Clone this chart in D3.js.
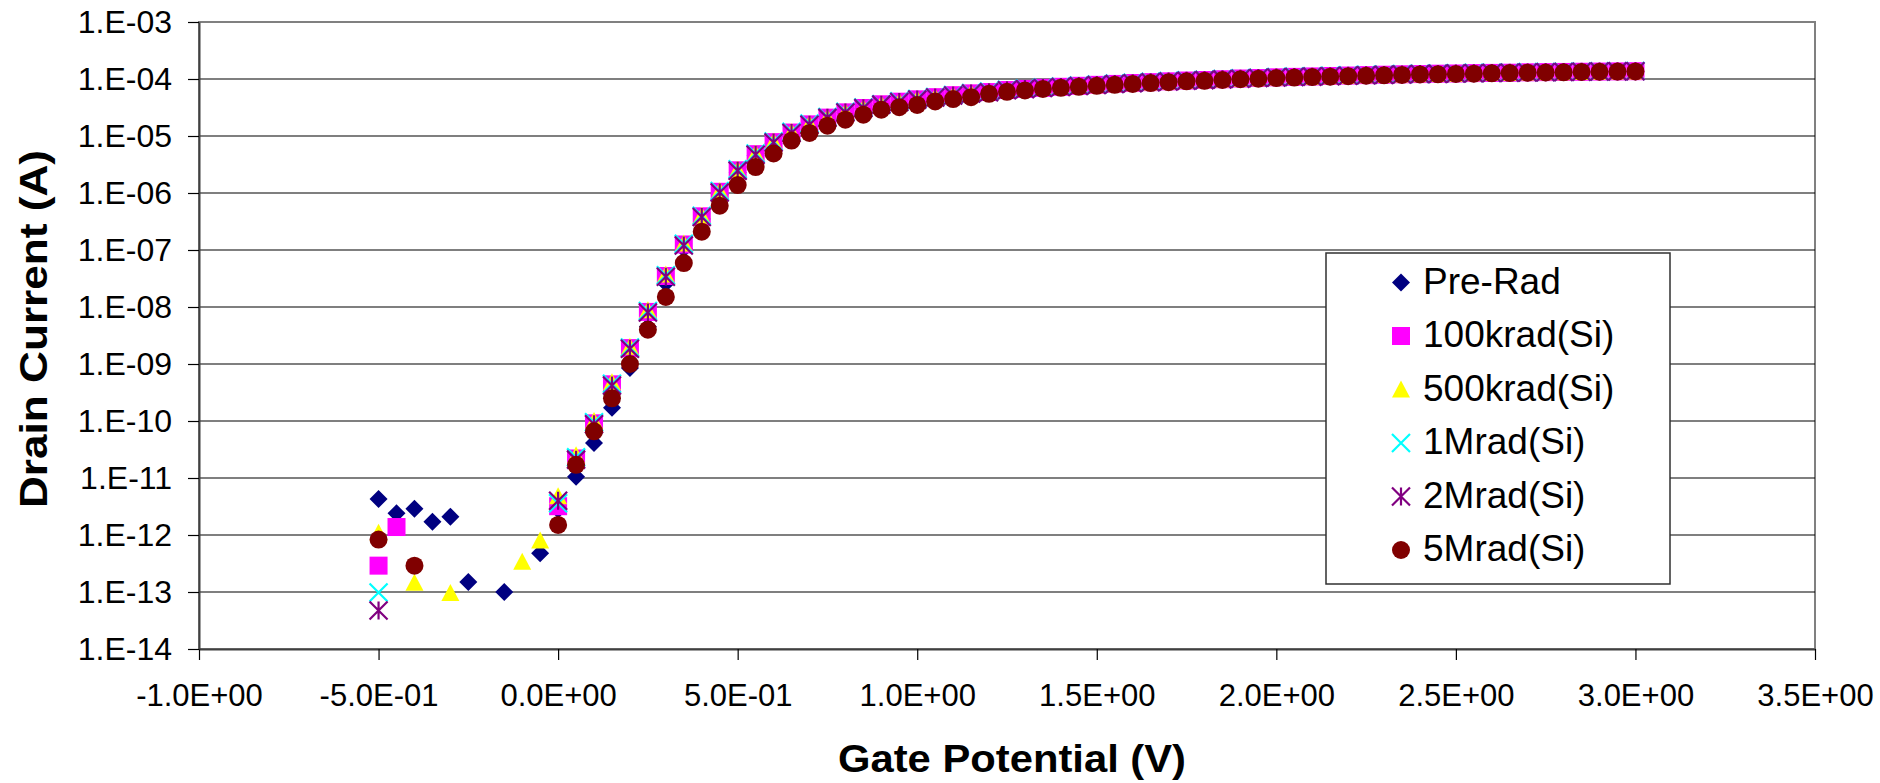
<!DOCTYPE html>
<html>
<head>
<meta charset="utf-8">
<script src="https://cdn.jsdelivr.net/npm/d3@7"></script>
<style>
  html, body { margin: 0; padding: 0; background: #fff; }
  svg { display: block; font-family: "Liberation Sans", Arial, Helvetica, sans-serif; }
</style>
</head>
<body>
<svg id="chart" width="1880" height="783"></svg>
<script>
// Gate sweep (V)
const gateV = [
  -0.50, -0.45, -0.40, -0.35, -0.30, -0.25, -0.20, -0.15, -0.10, -0.05,
   0.00,  0.05,  0.10,  0.15,  0.20,  0.25,  0.30,  0.35,  0.40,  0.45,
   0.50,  0.55,  0.60,  0.65,  0.70,  0.75,  0.80,  0.85,  0.90,  0.95,
   1.00,  1.05,  1.10,  1.15,  1.20,  1.25,  1.30,  1.35,  1.40,  1.45,
   1.50,  1.55,  1.60,  1.65,  1.70,  1.75,  1.80,  1.85,  1.90,  1.95,
   2.00,  2.05,  2.10,  2.15,  2.20,  2.25,  2.30,  2.35,  2.40,  2.45,
   2.50,  2.55,  2.60,  2.65,  2.70,  2.75,  2.80,  2.85,  2.90,  2.95,
   3.00
];

// Drain current (A) per dose level; null = no positive reading
const preRad = [
  4.3e-12, 2.4e-12, 2.9e-12, 1.7e-12, 2.1e-12, 1.5e-13, null, 1.0e-13, null, 4.8e-13,
  2.8e-12, 1.05e-11, 4.1e-11, 1.7e-10, 8.5e-10, 4.5e-9, 2.6e-8, 1.05e-7, 3.5e-7, 9.5e-7,
  2.3e-6, 4.5e-6, 7.4e-6, 1.1e-5, 1.55e-5, 2.05e-5, 2.55e-5, 3.0e-5, 3.5e-5, 3.9e-5,
  4.3e-5, 4.7e-5, 5.1e-5, 5.5e-5, 5.8e-5, 6.3e-5, 6.6e-5, 6.9e-5, 7.2e-5, 7.5e-5,
  7.8e-5, 8.1e-5, 8.4e-5, 8.7e-5, 9.0e-5, 9.3e-5, 9.5e-5, 9.8e-5, 1.01e-4, 1.03e-4,
  1.06e-4, 1.08e-4, 1.10e-4, 1.12e-4, 1.14e-4, 1.16e-4, 1.18e-4, 1.20e-4, 1.21e-4, 1.23e-4,
  1.24e-4, 1.26e-4, 1.27e-4, 1.28e-4, 1.30e-4, 1.31e-4, 1.32e-4, 1.33e-4, 1.34e-4, 1.35e-4,
  1.36e-4
];
const krad100 = [
  2.9e-13, 1.38e-12, null, null, null, null, null, null, null, null,
  3.2e-12, 2.2e-11, 9.1e-11, 4.4e-10, 1.9e-9, 8.2e-9, 3.5e-8, 1.25e-7, 3.9e-7, 1.05e-6,
  2.5e-6, 4.8e-6, 7.8e-6, 1.15e-5, 1.6e-5, 2.1e-5, 2.6e-5, 3.1e-5, 3.6e-5, 4.0e-5,
  4.4e-5, 4.8e-5, 5.2e-5, 5.6e-5, 5.9e-5, 6.4e-5, 6.7e-5, 7.0e-5, 7.3e-5, 7.6e-5,
  7.9e-5, 8.2e-5, 8.5e-5, 8.8e-5, 9.1e-5, 9.4e-5, 9.6e-5, 9.9e-5, 1.02e-4, 1.04e-4,
  1.07e-4, 1.09e-4, 1.11e-4, 1.13e-4, 1.15e-4, 1.17e-4, 1.19e-4, 1.21e-4, 1.22e-4, 1.24e-4,
  1.25e-4, 1.27e-4, 1.28e-4, 1.29e-4, 1.31e-4, 1.32e-4, 1.33e-4, 1.34e-4, 1.35e-4, 1.36e-4,
  1.37e-4
];
const krad500 = [
  1.1e-12, null, 1.45e-13, null, 9.6e-14, null, null, null, 3.4e-13, 8.0e-13,
  4.8e-12, 2.5e-11, 1.0e-10, 4.8e-10, 2.0e-9, 8.8e-9, 3.7e-8, 1.3e-7, 4.0e-7, 1.08e-6,
  2.55e-6, 4.9e-6, 7.9e-6, 1.17e-5, 1.62e-5, 2.1e-5, 2.6e-5, 3.1e-5, 3.6e-5, 4.0e-5,
  4.4e-5, 4.8e-5, 5.2e-5, 5.6e-5, 5.9e-5, 6.4e-5, 6.7e-5, 7.0e-5, 7.3e-5, 7.6e-5,
  7.8e-5, 8.1e-5, 8.4e-5, 8.7e-5, 9.0e-5, 9.3e-5, 9.5e-5, 9.8e-5, 1.01e-4, 1.03e-4,
  1.06e-4, 1.08e-4, 1.10e-4, 1.12e-4, 1.14e-4, 1.16e-4, 1.18e-4, 1.20e-4, 1.21e-4, 1.23e-4,
  1.24e-4, 1.26e-4, 1.27e-4, 1.28e-4, 1.30e-4, 1.31e-4, 1.32e-4, 1.33e-4, 1.34e-4, 1.35e-4,
  1.36e-4
];
const mrad1 = [
  9.8e-14, null, null, null, null, null, null, null, null, null,
  3.6e-12, 2.3e-11, 9.5e-11, 4.5e-10, 1.95e-9, 8.5e-9, 3.6e-8, 1.28e-7, 4.0e-7, 1.08e-6,
  2.6e-6, 4.95e-6, 8.0e-6, 1.18e-5, 1.65e-5, 2.15e-5, 2.65e-5, 3.15e-5, 3.6e-5, 4.05e-5,
  4.45e-5, 4.85e-5, 5.25e-5, 5.65e-5, 6.0e-5, 6.5e-5, 6.8e-5, 7.1e-5, 7.4e-5, 7.7e-5,
  8.0e-5, 8.3e-5, 8.6e-5, 8.9e-5, 9.2e-5, 9.5e-5, 9.7e-5, 1.0e-4, 1.03e-4, 1.05e-4,
  1.08e-4, 1.10e-4, 1.12e-4, 1.14e-4, 1.16e-4, 1.18e-4, 1.20e-4, 1.22e-4, 1.23e-4, 1.25e-4,
  1.26e-4, 1.28e-4, 1.29e-4, 1.30e-4, 1.32e-4, 1.33e-4, 1.34e-4, 1.35e-4, 1.36e-4, 1.37e-4,
  1.38e-4
];
const mrad2 = [
  4.75e-14, null, null, null, null, null, null, null, null, null,
  4.0e-12, 2.1e-11, 8.8e-11, 4.2e-10, 1.85e-9, 8.0e-9, 3.4e-8, 1.2e-7, 3.8e-7, 1.02e-6,
  2.45e-6, 4.7e-6, 7.7e-6, 1.13e-5, 1.58e-5, 2.08e-5, 2.58e-5, 3.08e-5, 3.55e-5, 3.95e-5,
  4.35e-5, 4.75e-5, 5.15e-5, 5.55e-5, 5.85e-5, 6.35e-5, 6.65e-5, 6.95e-5, 7.25e-5, 7.55e-5,
  7.85e-5, 8.15e-5, 8.45e-5, 8.75e-5, 9.05e-5, 9.35e-5, 9.55e-5, 9.85e-5, 1.01e-4, 1.04e-4,
  1.06e-4, 1.08e-4, 1.10e-4, 1.12e-4, 1.14e-4, 1.16e-4, 1.18e-4, 1.20e-4, 1.22e-4, 1.23e-4,
  1.25e-4, 1.26e-4, 1.27e-4, 1.29e-4, 1.30e-4, 1.31e-4, 1.33e-4, 1.34e-4, 1.35e-4, 1.36e-4,
  1.37e-4
];
const mrad5 = [
  8.3e-13, null, 2.9e-13, null, null, null, null, null, null, null,
  1.5e-12, 1.7e-11, 6.6e-11, 2.5e-10, 1.0e-9, 4.0e-9, 1.5e-8, 5.9e-8, 2.1e-7, 6.0e-7,
  1.38e-6, 2.85e-6, 4.95e-6, 8.3e-6, 1.13e-5, 1.52e-5, 1.93e-5, 2.37e-5, 2.9e-5, 3.2e-5,
  3.5e-5, 4.05e-5, 4.45e-5, 4.8e-5, 5.5e-5, 5.95e-5, 6.3e-5, 6.7e-5, 7.0e-5, 7.3e-5,
  7.6e-5, 7.9e-5, 8.2e-5, 8.5e-5, 8.8e-5, 9.1e-5, 9.3e-5, 9.6e-5, 9.9e-5, 1.01e-4,
  1.04e-4, 1.06e-4, 1.08e-4, 1.10e-4, 1.12e-4, 1.14e-4, 1.16e-4, 1.18e-4, 1.20e-4, 1.21e-4,
  1.23e-4, 1.24e-4, 1.26e-4, 1.27e-4, 1.29e-4, 1.30e-4, 1.31e-4, 1.33e-4, 1.34e-4, 1.35e-4,
  1.36e-4
];

const seriesNames  = ["Pre-Rad", "100krad(Si)", "500krad(Si)", "1Mrad(Si)", "2Mrad(Si)", "5Mrad(Si)"];
const seriesValues = [preRad, krad100, krad500, mrad1, mrad2, mrad5];
const seriesColors = ["#000080", "#FF00FF", "#FFFF00", "#00FFFF", "#800080", "#800000"];
const seriesShapes = ["diamond", "square", "triangle", "cross", "asterisk", "circle"];

// Axis ticks and their labels
const xTicks = [-1.0, -0.5, 0.0, 0.5, 1.0, 1.5, 2.0, 2.5, 3.0, 3.5];
const xTickLabels = ["-1.0E+00", "-5.0E-01", "0.0E+00", "5.0E-01", "1.0E+00",
                     "1.5E+00", "2.0E+00", "2.5E+00", "3.0E+00", "3.5E+00"];
const yTicks = [1e-14, 1e-13, 1e-12, 1e-11, 1e-10, 1e-9, 1e-8, 1e-7, 1e-6, 1e-5, 1e-4, 1e-3];
const yTickLabels = ["1.E-14", "1.E-13", "1.E-12", "1.E-11", "1.E-10", "1.E-09",
                     "1.E-08", "1.E-07", "1.E-06", "1.E-05", "1.E-04", "1.E-03"];

const xTitle = "Gate Potential (V)";
const yTitle = "Drain Current (A)";

// ---- layout ----
const plot = { left: 199, right: 1815, top: 22, bottom: 649 };
const svg = d3.select("#chart");

const x = d3.scaleLinear().domain([-1.0, 3.5]).range([plot.left, plot.right]);
const y = d3.scaleLog().domain([1e-14, 1e-3]).range([plot.bottom, plot.top]);

svg.append("rect").attr("width", 1880).attr("height", 783).attr("fill", "#fff");

// plot-area frame
svg.append("rect")
  .attr("x", plot.left).attr("y", plot.top)
  .attr("width", plot.right - plot.left).attr("height", plot.bottom - plot.top)
  .attr("fill", "#fff").attr("stroke", "#808080").attr("stroke-width", 2);

// horizontal gridlines at each decade
svg.append("g").selectAll("line")
  .data(yTicks.filter(v => v > 1e-14 && v < 1e-3))
  .join("line")
  .attr("x1", plot.left).attr("x2", plot.right)
  .attr("y1", d => y(d)).attr("y2", d => y(d))
  .attr("stroke", "#000").attr("stroke-width", 1.2);

// axes
const xAxis = d3.axisBottom(x)
  .tickValues(xTicks)
  .tickFormat((d, i) => xTickLabels[i])
  .tickSize(11).tickPadding(24).tickSizeOuter(0);
const yAxis = d3.axisLeft(y)
  .tickValues(yTicks)
  .tickFormat((d, i) => yTickLabels[i])
  .tickSize(11).tickPadding(16).tickSizeOuter(0);

const gx = svg.append("g").attr("transform", `translate(0,${plot.bottom})`).call(xAxis);
const gy = svg.append("g").attr("transform", `translate(${plot.left},0)`).call(yAxis);

[gx, gy].forEach(g => {
  g.select(".domain").attr("stroke", "#404040").attr("stroke-width", 2);
  g.selectAll(".tick line").attr("stroke", "#000").attr("stroke-width", 1.2);
  g.selectAll(".tick text").attr("fill", "#000")
    .style("font-family", "'Liberation Sans', Arial, sans-serif");
});
gx.selectAll(".tick text").style("font-size", "31px");
gy.selectAll(".tick text").style("font-size", "32px");

// axis titles
svg.append("text")
  .attr("x", 1012).attr("y", 772)
  .attr("text-anchor", "middle")
  .attr("textLength", 348).attr("lengthAdjust", "spacingAndGlyphs")
  .style("font-size", "38px").style("font-weight", "bold")
  .text(xTitle);

svg.append("text")
  .attr("transform", "translate(47,329) rotate(-90)")
  .attr("text-anchor", "middle")
  .attr("textLength", 358).attr("lengthAdjust", "spacingAndGlyphs")
  .style("font-size", "38px").style("font-weight", "bold")
  .text(yTitle);

// ---- markers ----
const R = 9;
function drawMarker(g, shape, color) {
  switch (shape) {
    case "diamond":
      g.append("path").attr("d", `M0,${-R}L${R},0L0,${R}L${-R},0Z`).attr("fill", color);
      break;
    case "square":
      g.append("rect").attr("x", -R).attr("y", -R).attr("width", 2 * R).attr("height", 2 * R).attr("fill", color);
      break;
    case "triangle":
      g.append("path").attr("d", `M0,${-R}L${R},${R - 1}L${-R},${R - 1}Z`).attr("fill", color);
      break;
    case "cross":
      g.append("path").attr("d", `M${-R},${-R}L${R},${R}M${R},${-R}L${-R},${R}`)
        .attr("stroke", color).attr("stroke-width", 2.2).attr("fill", "none");
      break;
    case "asterisk":
      g.append("path").attr("d", `M${-R},${-R}L${R},${R}M${R},${-R}L${-R},${R}M0,${-R}L0,${R}`)
        .attr("stroke", color).attr("stroke-width", 2.2).attr("fill", "none");
      break;
    case "circle":
      g.append("circle").attr("r", R).attr("fill", color);
      break;
  }
}

const clip = svg.append("clipPath").attr("id", "plotClip")
  .append("rect").attr("x", plot.left).attr("y", plot.top)
  .attr("width", plot.right - plot.left).attr("height", plot.bottom - plot.top);

const marks = svg.append("g").attr("clip-path", "url(#plotClip)");
seriesValues.forEach((vals, s) => {
  const pts = gateV.map((v, i) => ({ v, c: vals[i] })).filter(p => p.c != null && p.c > 0);
  marks.append("g").selectAll("g")
    .data(pts)
    .join("g")
    .attr("transform", p => `translate(${x(p.v)},${y(p.c)})`)
    .each(function () { drawMarker(d3.select(this), seriesShapes[s], seriesColors[s]); });
});

// ---- legend ----
const legend = svg.append("g");
legend.append("rect")
  .attr("x", 1326).attr("y", 253).attr("width", 344).attr("height", 331)
  .attr("fill", "#fff").attr("stroke", "#303030").attr("stroke-width", 1.5);

const rows = legend.selectAll("g.row")
  .data(seriesNames)
  .join("g").attr("class", "row")
  .attr("transform", (d, i) => `translate(0,${282.5 + i * 53.5})`);
rows.each(function (d, i) {
  const g = d3.select(this);
  drawMarker(g.append("g").attr("transform", "translate(1401,0)"), seriesShapes[i], seriesColors[i]);
  g.append("text").attr("x", 1423).attr("y", 11)
    .style("font-size", "37px").attr("fill", "#000").text(d);
});
</script>
</body>
</html>
